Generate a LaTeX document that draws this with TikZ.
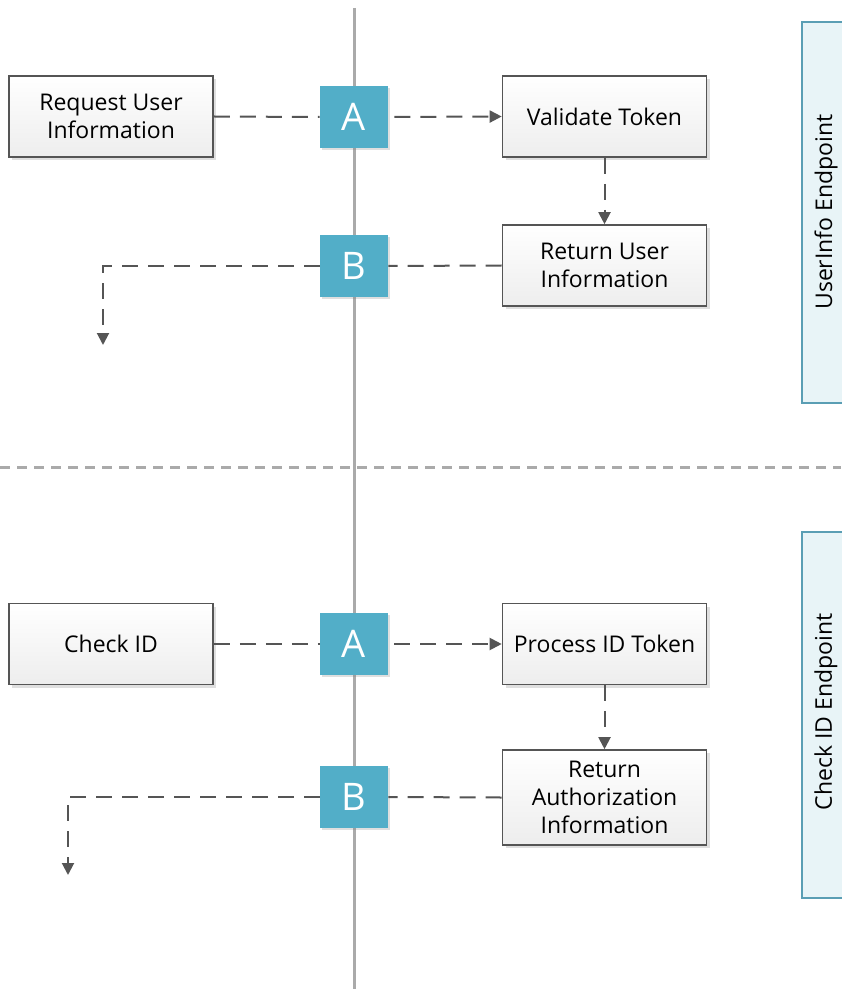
\documentclass[tikz,border=0pt]{standalone}
\usepackage{fontspec}
\setmainfont{Open Sans}
\usetikzlibrary{arrows.meta, shadows}

\definecolor{linegray}{RGB}{85,85,85}
\definecolor{axisgray}{RGB}{170,170,170}
\definecolor{stepblue}{RGB}{82,174,200}
\definecolor{panelfill}{RGB}{232,244,247}
\definecolor{paneledge}{RGB}{90,158,180}

\tikzset{
  task/.style={draw=linegray, line width=0.8pt, top color=white, bottom color=gray!14,
    minimum width=102pt, minimum height=40.5pt, align=center,
    font=\fontsize{11.5}{14}\selectfont,
    drop shadow={shadow xshift=1.5pt, shadow yshift=-1.5pt, opacity=0.25, fill=gray}},
  marker/.style={fill=stepblue, minimum width=34pt, minimum height=31pt, text=white,
    font=\fontsize{19}{20}\selectfont,
    drop shadow={shadow xshift=1pt, shadow yshift=-1pt, opacity=0.25, fill=gray}},
  flow/.style={draw=linegray, line width=1pt, dash pattern=on 8pt off 5pt},
  tip/.style={-{Triangle[length=6pt,width=6pt]}},
  panel/.style={draw=paneledge, fill=panelfill, line width=0.8pt}
}

\begin{document}
\begin{tikzpicture}[x=0.5pt, y=-0.5pt]

  \useasboundingbox (0,0) rectangle (841,989);

  % lanes
  \draw[axisgray, line width=1.5pt] (354,8) -- (354,989);
  \draw[axisgray, line width=1.5pt, dash pattern=on 5pt off 3.5pt] (0,467) -- (841,467);

  % side panels
  \draw[panel] (802,22) rectangle (850,403);
  \node[rotate=90, font=\fontsize{11.5}{14}\selectfont] (userinfo) at (826,212) {UserInfo Endpoint};
  \draw[panel] (802,532) rectangle (850,898);
  \node[rotate=90, font=\fontsize{11.5}{14}\selectfont] (checkid) at (826,712) {Check ID Endpoint};

  % userinfo endpoint
  \node[task] (req) at (111,116.5) {Request User\\Information};
  \node[task] (validate) at (604.5,116.5) {Validate Token};
  \node[task] (retinfo) at (604.5,265.5) {Return User\\Information};
  \node[marker] (A1) at (354,117) {A};
  \node[marker] (B1) at (354,266) {B};
  \coordinate (out1) at (103,345);

  \draw[flow] (req.east) -- (A1.west);
  \draw[flow, tip, shorten <=3pt] (A1.east) -- (validate.west);
  \draw[flow, tip] (validate.south) -- (retinfo.north);
  \draw[flow] (retinfo.west) -- (B1.east);
  \draw[flow, tip] (B1.west) -| (out1);

  % check id endpoint
  \node[task] (check) at (111,644) {Check ID};
  \node[task] (process) at (604.5,644) {Process ID Token};
  \node[task, minimum height=47.5pt] (retauth) at (604.5,797.5) {Return\\Authorization\\Information};
  \node[marker] (A2) at (354,644) {A};
  \node[marker] (B2) at (354,797) {B};
  \coordinate (out2) at (68,875);

  \draw[flow] (check.east) -- (A2.west);
  \draw[flow, tip, shorten <=3pt] (A2.east) -- (process.west);
  \draw[flow, tip] (process.south) -- (retauth.north);
  \draw[flow] (retauth.west) -- (B2.east);
  \draw[flow, tip] (B2.west) -| (out2);

\end{tikzpicture}
\end{document}
